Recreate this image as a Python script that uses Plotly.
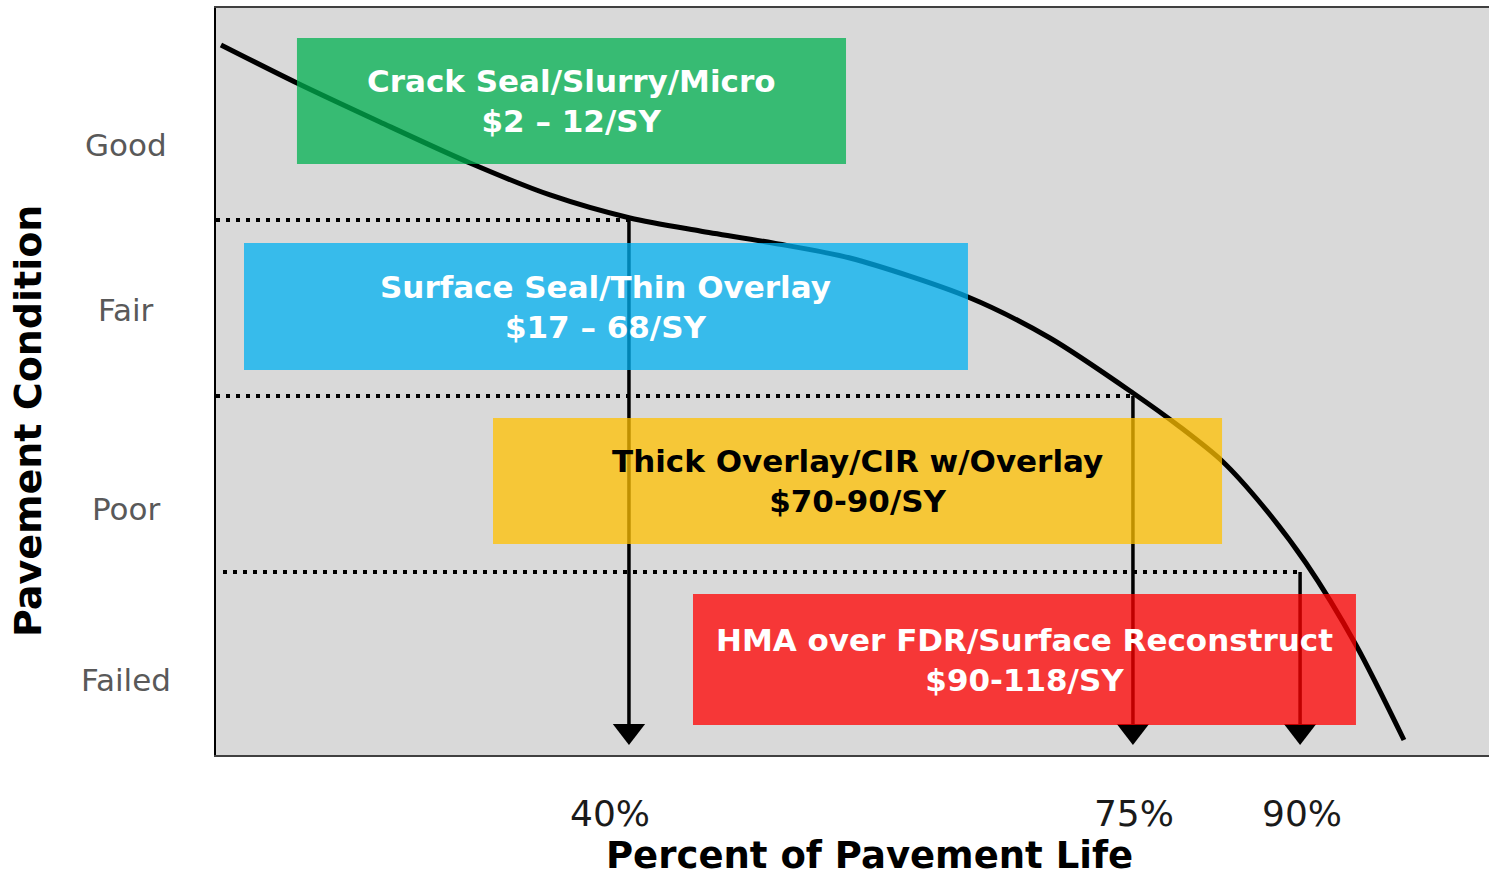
import plotly.graph_objects as go

# ---------------- data (normalized units: x 0-100 across the plot, y 0-100 condition) ----------
curve_x = [0.39, 6.36, 12.88, 19.95, 26.24, 32.52, 38.02, 43.75, 49.80, 59.07,
           65.51, 72.03, 75.73, 79.03, 82.17, 85.62, 89.55, 93.32]
curve_y = [95.05, 89.96, 84.74, 79.25, 74.97, 71.89, 70.15, 68.54, 66.53, 61.31,
           55.82, 48.46, 43.91, 39.36, 33.47, 25.70, 14.73, 2.01]

condition_labels = ["Good", "Fair", "Poor", "Failed"]
condition_y = [81.66, 59.57, 32.93, 10.04]

life_tick_text = ["40%", "75%", "90%"]
life_tick_x = [30.95, 72.11, 85.31]

threshold_x = [32.44, 72.03, 85.16]
threshold_y = [71.62, 48.06, 24.50]
threshold_start = [0.0, 0.0, 0.55]
arrow_tip_y = 3.2

treatment_text = [
    "Crack Seal/Slurry/Micro<br>$2 – 12/SY",
    "Surface Seal/Thin Overlay<br>$17 – 68/SY",
    "Thick Overlay/CIR w/Overlay<br>$70-90/SY",
    "HMA over FDR/Surface Reconstruct<br>$90-118/SY",
]
treatment_x0 = [6.36, 2.20, 21.76, 37.47]
treatment_x1 = [49.49, 59.07, 79.03, 89.55]
treatment_y0 = [79.12, 51.54, 28.25, 4.02]
treatment_y1 = [95.98, 68.54, 45.11, 21.55]
treatment_fill = ["#00B050", "#00B0F0", "#FFC000", "#FF0000"]
treatment_font = ["white", "white", "black", "white"]

x_title = "Percent of Pavement Life"
y_title = "Pavement Condition"

FONT = "DejaVu Sans"

fig = go.Figure()

# deterioration curve
fig.add_trace(go.Scatter(
    x=curve_x, y=curve_y, mode="lines",
    line=dict(color="black", width=5, shape="spline", smoothing=0.8),
    hoverinfo="skip", showlegend=False))

# dotted threshold lines and vertical arrows
for xs, xt, yt in zip(threshold_start, threshold_x, threshold_y):
    fig.add_trace(go.Scatter(
        x=[xs, xt], y=[yt, yt], mode="lines",
        line=dict(color="black", width=4, dash="4px,6px"),
        hoverinfo="skip", showlegend=False))
    fig.add_trace(go.Scatter(
        x=[xt, xt], y=[yt, arrow_tip_y], mode="lines",
        line=dict(color="black", width=3.5),
        hoverinfo="skip", showlegend=False))

fig.add_trace(go.Scatter(
    x=threshold_x, y=[arrow_tip_y] * len(threshold_x), mode="markers",
    marker=dict(symbol="triangle-down", size=28, color="black", line=dict(width=0)),
    hoverinfo="skip", showlegend=False))

# treatment boxes
for x0, x1, y0, y1, col, txt, tcol in zip(treatment_x0, treatment_x1, treatment_y0,
                                          treatment_y1, treatment_fill, treatment_text,
                                          treatment_font):
    fig.add_shape(type="rect", xref="x", yref="y", x0=x0, x1=x1, y0=y0, y1=y1,
                  fillcolor=col, opacity=0.75, line=dict(width=0), layer="above")
    fig.add_annotation(x=(x0 + x1) / 2, y=(y0 + y1) / 2, xref="x", yref="y",
                       text="<b>" + txt + "</b>", showarrow=False,
                       font=dict(family=FONT, size=31, color=tcol),
                       xanchor="center", yanchor="middle", align="center")

# condition labels
for lab, yv in zip(condition_labels, condition_y):
    fig.add_annotation(x=-0.0705, y=yv, xref="paper", yref="y", text=lab,
                       showarrow=False, xanchor="center", yanchor="middle",
                       font=dict(family=FONT, size=31, color="#595959"))

# axis titles
fig.add_annotation(x=0.5137, y=-0.1615, xref="paper", yref="paper",
                   text="<b>" + x_title + "</b>", showarrow=False,
                   xanchor="center", yanchor="bottom", height=40, valign="middle",
                   borderpad=0,
                   font=dict(family=FONT, size=37, color="black"))
fig.add_annotation(x=-0.1477, y=0.447, xref="paper", yref="paper",
                   text="<b>" + y_title + "</b>", showarrow=False, textangle=-90,
                   xanchor="center", yanchor="middle",
                   font=dict(family=FONT, size=38, color="black"))

fig.update_layout(
    width=1489, height=875,
    margin=dict(l=216, r=0, t=8, b=120),
    paper_bgcolor="white", plot_bgcolor="#d9d9d9",
    showlegend=False,
    xaxis=dict(range=[0, 100], showgrid=False, zeroline=False,
               showline=True, linecolor="#404040", linewidth=2, mirror=True,
               ticks="", tickvals=life_tick_x, ticktext=life_tick_text,
               tickfont=dict(family=FONT, size=36, color="#1a1a1a"),
               ticklabelstandoff=26, fixedrange=True),
    yaxis=dict(range=[0, 100], showgrid=False, zeroline=False,
               showline=True, linecolor="black", linewidth=2,
               showticklabels=False, ticks="", fixedrange=True),
)

fig.write_html(
    "out.html",
    config={"displayModeBar": False},
    post_script="document.body.style.margin='0px';document.body.style.overflow='hidden';",
)
